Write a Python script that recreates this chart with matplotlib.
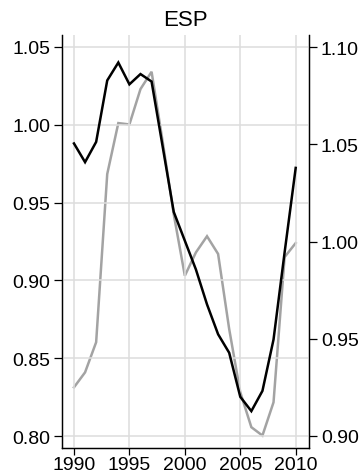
import matplotlib
matplotlib.use("Agg")
import matplotlib.pyplot as plt

plt.rcParams['font.family'] = ['Liberation Sans', 'DejaVu Sans']

# ESP series, 1990-2010
years = list(range(1990, 2011))
left_series = [0.988, 0.976, 0.989, 1.0285, 1.040, 1.026, 1.0326, 1.0278, 0.986, 0.944,
               0.9255, 0.907, 0.8846, 0.8654, 0.8535, 0.8252, 0.816, 0.829, 0.862, 0.918,
               0.9723]
right_series = [0.925, 0.9327, 0.9482, 1.0347, 1.0609, 1.0602, 1.0784, 1.0873, 1.0514, 1.014,
                0.9824, 0.9944, 1.0027, 0.9936, 0.955, 0.9225, 0.9045, 0.9002, 0.9173, 0.992,
                0.9992]
left_ticks = [0.80, 0.85, 0.90, 0.95, 1.00, 1.05]
right_ticks = [0.90, 0.95, 1.00, 1.05, 1.10]
year_ticks = [1990, 1995, 2000, 2005, 2010]

fig = plt.figure(figsize=(3.62, 4.77), dpi=100)
ax = fig.add_axes([62 / 362, 1 - 449 / 477, 247 / 362, 413 / 477])
ax2 = ax.twinx()

ax2.plot(years, right_series, color='#a3a3a3', lw=1.8, solid_joinstyle='miter')
ax.plot(years, left_series, color='black', lw=1.8, solid_joinstyle='miter')

ax.set_zorder(ax2.get_zorder() + 1)
ax.patch.set_visible(False)

ax.set_xlim(1988.92, 2011.2)
ax.set_ylim(0.7923, 1.0577)
ax2.set_ylim(0.8938, 1.1062)

ax.set_xticks(year_ticks)
ax.set_yticks(left_ticks)
ax.set_yticklabels([f"{v:.2f}" for v in left_ticks])
ax2.set_yticks(right_ticks)
ax2.set_yticklabels([f"{v:.2f}" for v in right_ticks])

ax.grid(True, color='#dddddd', lw=1.1)
ax.set_axisbelow(True)

for a in (ax, ax2):
    a.spines['top'].set_visible(False)
    for s in ('left', 'right', 'bottom'):
        a.spines[s].set_linewidth(0.9)
    a.tick_params(axis='y', direction='out', length=5.5, width=0.9, labelsize=14, pad=3)
ax.tick_params(axis='x', direction='out', length=5, width=0.9, labelsize=14, pad=1)

ax.set_title("ESP", fontsize=16, pad=7)

fig.savefig("out.png", dpi=100)
